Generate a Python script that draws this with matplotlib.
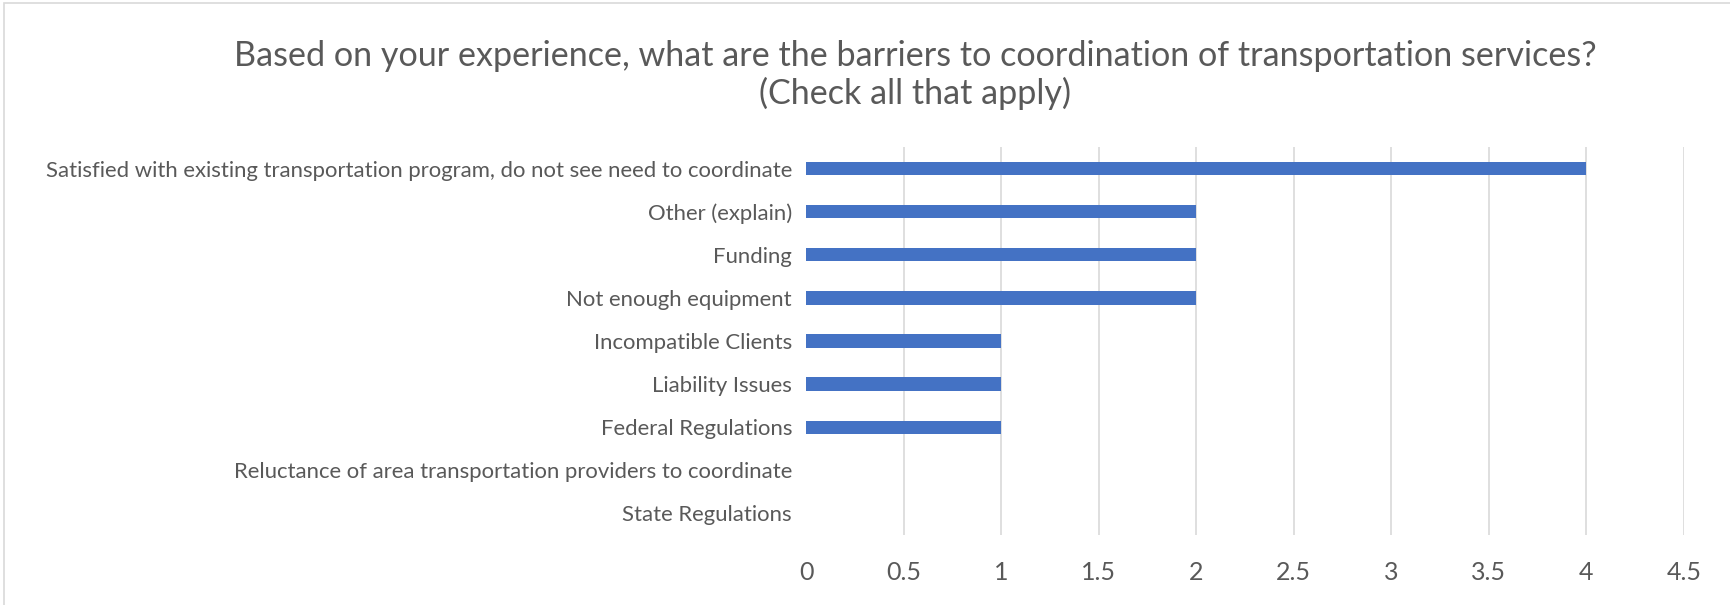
import numpy as np
import matplotlib
matplotlib.use("Agg")
from matplotlib import pyplot as plt
from matplotlib.patches import Rectangle

barriers = [
    "Satisfied with existing transportation program, do not see need to coordinate",
    "Other (explain)",
    "Funding",
    "Not enough equipment",
    "Incompatible Clients",
    "Liability Issues",
    "Federal Regulations",
    "Reluctance of area transportation providers to coordinate",
    "State Regulations",
]
responses = [4, 2, 2, 2, 1, 1, 1, 0, 0]
x_ticks = [0, 0.5, 1, 1.5, 2, 2.5, 3, 3.5, 4, 4.5]

text_grey = "#595959"
bar_blue = "#4472C4"

plt.rcParams['font.family'] = ['Lato', 'DejaVu Sans']

fig = plt.figure(figsize=(17.3, 6.05), dpi=100)
ax = fig.add_axes([0.4659, 0.1157, 0.5075, 0.6413])

pos = np.arange(len(barriers))
ax.barh(pos, responses, height=0.31, color=bar_blue, zorder=3)

ax.set_ylim(len(barriers) - 0.5, -0.5)
ax.set_yticks(pos)
ax.set_yticklabels(barriers, fontsize=15.9, color=text_grey)
ax.set_xlim(0, 4.5)
ax.set_xticks(x_ticks)
ax.set_xticklabels([f"{t:g}" for t in x_ticks], fontsize=18, color=text_grey)
ax.tick_params(axis='x', length=0, pad=19)
ax.tick_params(axis='y', length=0, pad=10)

for spine in ax.spines.values():
    spine.set_visible(False)

# vertical gridlines, none at zero
for t in x_ticks[1:]:
    ax.axvline(t, color="#D9D9D9", linewidth=1.2, zorder=1)

fig.text(0.529, 0.876,
         "Based on your experience, what are the barriers to coordination of transportation services?\n(Check all that apply)",
         ha='center', va='center', fontsize=24.6, color=text_grey, linespacing=1.18)

# chart frame
fig.patches.append(Rectangle((4 / 1730, -0.1), 1.2, 1 - 3 / 605 + 0.1,
                             transform=fig.transFigure, fill=False,
                             edgecolor="#D9D9D9", linewidth=1.2))

fig.savefig("out.png", dpi=100)
